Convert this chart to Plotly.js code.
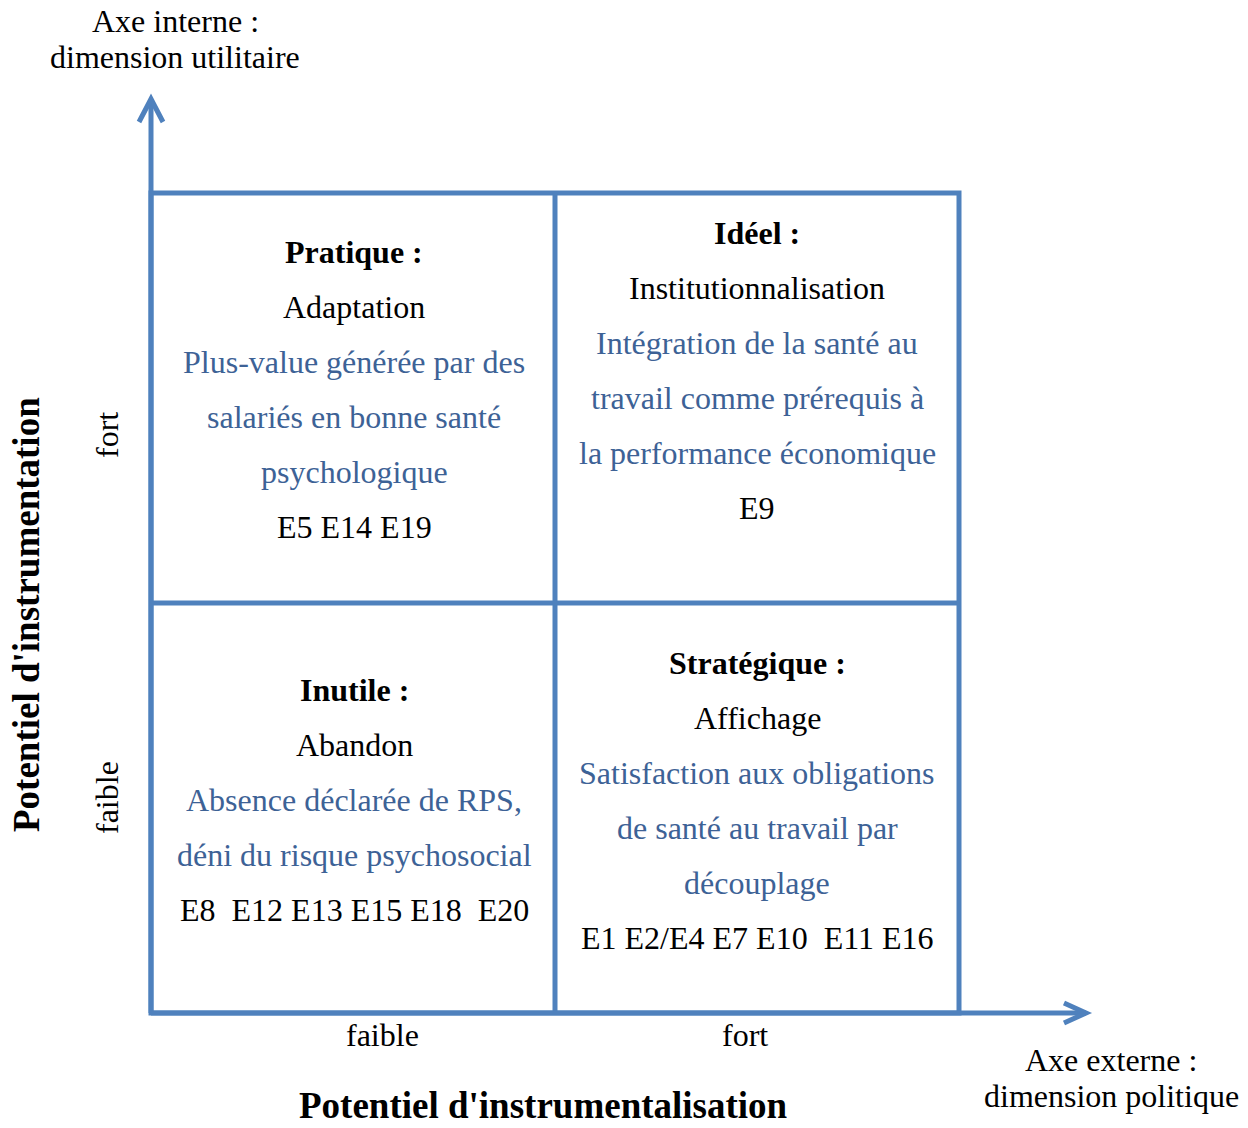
<!DOCTYPE html>
<html>
<head>
<meta charset="utf-8">
<script src="https://cdn.plot.ly/plotly-3.0.1.min.js"></script>
<style>html,body{margin:0;padding:0;background:#fff}#chart{width:1248px;height:1128px}</style>
</head>
<body>
<div id="chart"></div>
<script>
// ---- data ----
const xLevels = ["faible", "fort"];
const yLevels = ["faible", "fort"];
const xAxisTitle = "Potentiel d'instrumentalisation";
const yAxisTitle = "Potentiel d'instrumentation";
const xAxisNote = ["Axe externe :", "dimension politique"];
const yAxisNote = ["Axe interne :", "dimension utilitaire"];
const quadrantTitles = ["Inutile :", "Stratégique :", "Pratique :", "Idéel :"];
const quadrantStrategies = ["Abandon", "Affichage", "Adaptation", "Institutionnalisation"];
const quadrantDescriptions = [
  ["Absence déclarée de RPS,", "déni du risque psychosocial"],
  ["Satisfaction aux obligations", "de santé au travail par", "découplage"],
  ["Plus-value générée par des", "salariés en bonne santé", "psychologique"],
  ["Intégration de la santé au", "travail comme prérequis à", "la performance économique"]
];
const quadrantCases = [
  "E8  E12 E13 E15 E18  E20",
  "E1 E2/E4 E7 E10  E11 E16",
  "E5 E14 E19",
  "E9"
];
// quadrant order: [col,row] for each entry
const quadrantCells = [[0,0],[1,0],[0,1],[1,1]];

// ---- layout helpers (pixel -> grid units) ----
const W = 1248, H = 1128;
const GX0 = 151, GUX = 404, GY0 = 1013, GUY = 410;
const X = px => (px - GX0) / GUX;
const Y = py => (GY0 - py) / GUY;

const LINE = "#4F81BD";
const BLUE = "#3D6296";
const FONT = "Liberation Serif, Times New Roman, serif";
const FS = 32;
const FSB = 37;

const nx = xLevels.length, ny = yLevels.length;
const shapes = [];
const lw = 5;
// outer box + inner grid
shapes.push({type:"rect", xref:"x", yref:"y", x0:0, x1:nx, y0:0, y1:ny, line:{color:LINE, width:lw}});
for (let i = 1; i < nx; i++) shapes.push({type:"line", xref:"x", yref:"y", x0:i, x1:i, y0:0, y1:ny, line:{color:LINE, width:lw}});
for (let j = 1; j < ny; j++) shapes.push({type:"line", xref:"x", yref:"y", x0:0, x1:nx, y0:j, y1:j, line:{color:LINE, width:lw}});
// axis arrows
const yTip = Y(99), xTip = X(1086);
shapes.push({type:"line", xref:"x", yref:"y", x0:0, x1:0, y0:0, y1:yTip, line:{color:LINE, width:lw}});
shapes.push({type:"line", xref:"x", yref:"y", x0:0, x1:xTip, y0:0, y1:0, line:{color:LINE, width:lw}});
shapes.push({type:"path", xref:"x", yref:"y",
  path:`M ${X(139)},${Y(122)} L 0,${yTip} L ${X(163)},${Y(122)}`, line:{color:LINE, width:lw}});
shapes.push({type:"path", xref:"x", yref:"y",
  path:`M ${X(1064)},${Y(1003)} L ${xTip},0 L ${X(1064)},${Y(1023)}`, line:{color:LINE, width:lw}});

const ann = [];
function txt(x, y, text, opts) {
  ann.push(Object.assign({xref:"x", yref:"y", x:x, y:y, text:text, showarrow:false,
    xanchor:"center", yanchor:"middle",
    font:{family:FONT, size:FS, color:"#000"}}, opts||{}));
}

// quadrant text blocks
const lineStep = 55 / GUY;
const blockTopPx = [690, 663, 252, 233];
quadrantTitles.forEach((t, k) => {
  const [c, r] = quadrantCells[k];
  const cx = c + 0.5 + (c === 0 ? 0.003 : 0);
  let y = Y(blockTopPx[k]);
  txt(cx, y, "<b>" + t + "</b>"); y -= lineStep;
  txt(cx, y, quadrantStrategies[k]); y -= lineStep;
  quadrantDescriptions[k].forEach(d => { txt(cx, y, d, {font:{family:FONT, size:FS, color:BLUE}}); y -= lineStep; });
  txt(cx, y, quadrantCases[k]);
});

// axis level labels
const xLevelPx = [382, 745];
xLevels.forEach((l, i) => txt(X(xLevelPx[i]), Y(1035), l));
const yLevelPy = [798, 435];
yLevels.forEach((l, j) => txt(X(107), Y(yLevelPy[j]), l, {textangle:-90}));

// axis titles
txt(X(543), Y(1105), "<b>" + xAxisTitle + "</b>", {font:{family:FONT, size:FSB, color:"#000"}});
txt(X(26), Y(615), "<b>" + yAxisTitle + "</b>", {font:{family:FONT, size:FSB, color:"#000"}, textangle:-90});
txt(X(175), Y(21), yAxisNote[0]); txt(X(175), Y(57), yAxisNote[1]);
txt(X(1111), Y(1060), xAxisNote[0]); txt(X(1111), Y(1096), xAxisNote[1]);

const layout = {
  width: W, height: H,
  margin: {l:0, r:0, t:0, b:0, pad:0},
  paper_bgcolor: "#fff", plot_bgcolor: "#fff",
  showlegend: false,
  xaxis: {range:[X(0), X(W)], visible:false, fixedrange:true},
  yaxis: {range:[Y(H), Y(0)], visible:false, fixedrange:true},
  shapes: shapes,
  annotations: ann
};
Plotly.newPlot("chart", [{x:[], y:[], type:"scatter", hoverinfo:"skip"}], layout, {displayModeBar:false, staticPlot:true});
</script>
</body>
</html>
